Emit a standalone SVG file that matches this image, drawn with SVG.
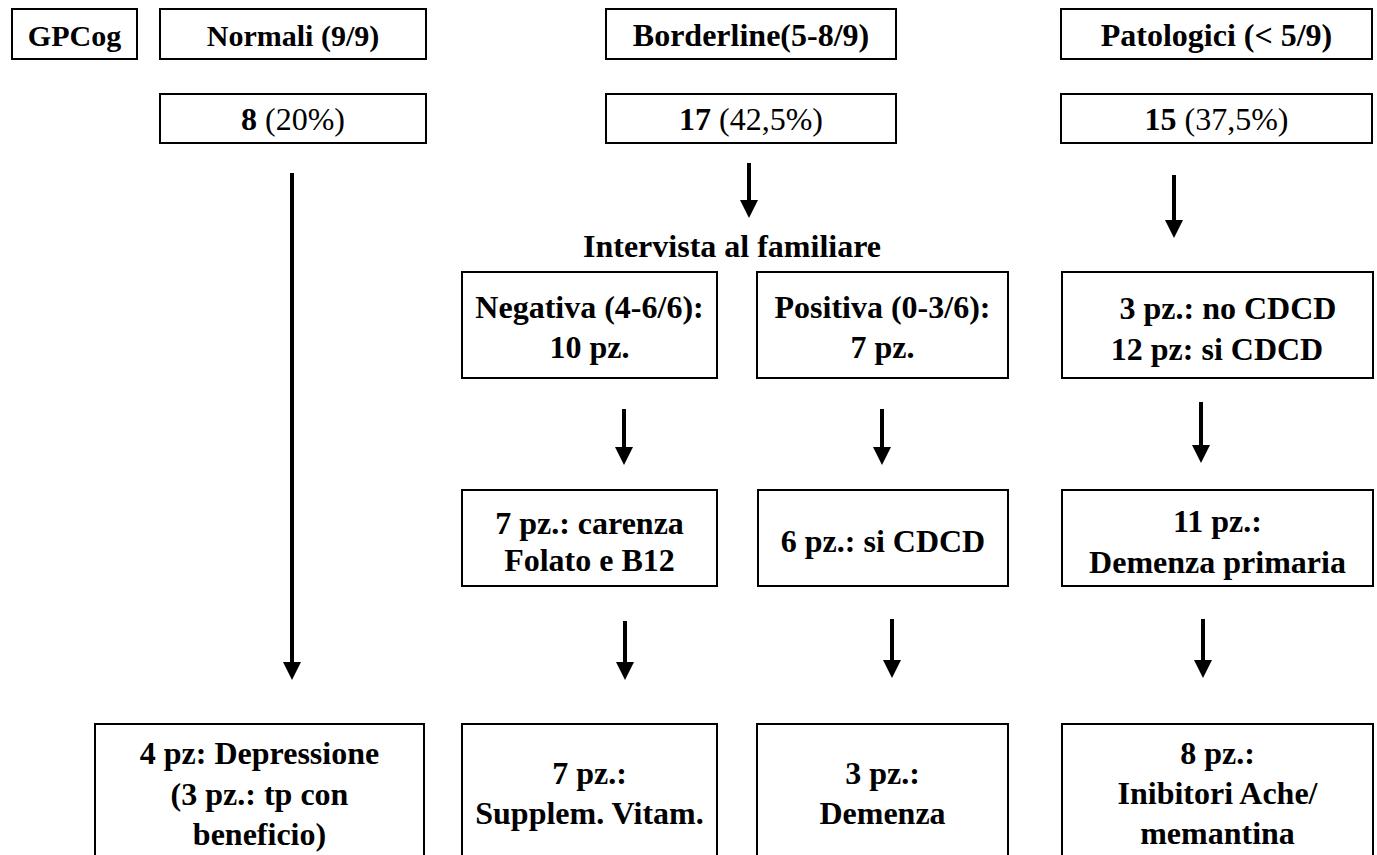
<svg xmlns="http://www.w3.org/2000/svg" width="1377" height="855" viewBox="0 0 1377 855">
<style>
  rect.box { fill: #ffffff; stroke: #000000; stroke-width: 2; }
  text { font-family: 'Liberation Serif', 'DejaVu Serif', serif; font-size: 32px; font-weight: bold; fill: #000000; text-anchor: middle; }
  text.n { font-weight: normal; }
  tspan.b { font-weight: bold; }
  .conn line { stroke: #000000; stroke-width: 4; marker-end: url(#arrow); }
</style>
<defs>
  <marker id="arrow" viewBox="0 0 18 18" refX="0" refY="9" markerWidth="18" markerHeight="18" markerUnits="userSpaceOnUse" orient="auto">
    <path d="M0,0 L18,9 L0,18 z" fill="#000000"/>
  </marker>
</defs>
<rect width="1377" height="855" fill="#ffffff"/>

<g id="gpcog"><rect class="box" x="12" y="9" width="125" height="50"/><text x="74.5" y="46" style="font-size:30px">GPCog</text></g>
<g id="normali"><rect class="box" x="160" y="9" width="266" height="50"/><text x="293" y="46" style="font-size:30px">Normali (9/9)</text></g>
<g id="borderline"><rect class="box" x="606" y="9" width="290" height="50"/><text x="751" y="46">Borderline(5-8/9)</text></g>
<g id="patologici"><rect class="box" x="1061" y="9" width="311" height="50"/><text x="1216.5" y="46">Patologici (&lt; 5/9)</text></g>

<g id="n-count"><rect class="box" x="160" y="94" width="266" height="49"/><text class="n" x="293" y="130"><tspan class="b">8</tspan> (20%)</text></g>
<g id="b-count"><rect class="box" x="606" y="94" width="290" height="49"/><text class="n" x="751" y="130"><tspan class="b">17</tspan> (42,5%)</text></g>
<g id="p-count"><rect class="box" x="1061" y="94" width="311" height="49"/><text class="n" x="1216.5" y="130"><tspan class="b">15</tspan> (37,5%)</text></g>

<g id="intervista"><text x="732" y="257">Intervista al familiare</text></g>

<g id="negativa"><rect class="box" x="462" y="272" width="255" height="106"/><text x="589.5" y="318">Negativa (4-6/6):</text><text x="589.5" y="358">10 pz.</text></g>
<g id="positiva"><rect class="box" x="757" y="272" width="251" height="106"/><text x="882.5" y="318">Positiva (0-3/6):</text><text x="882.5" y="358">7 pz.</text></g>
<g id="cdcd"><rect class="box" x="1062" y="272" width="311" height="106"/><text x="1228" y="319">3 pz.: no CDCD</text><text x="1217" y="360">12 pz: si CDCD</text></g>

<g id="carenza"><rect class="box" x="462" y="490" width="255" height="96"/><text x="589.5" y="534">7 pz.: carenza</text><text x="589.5" y="571">Folato e B12</text></g>
<g id="sicdcd"><rect class="box" x="758" y="490" width="250" height="96"/><text x="883" y="552">6 pz.: si CDCD</text></g>
<g id="primaria"><rect class="box" x="1062" y="490" width="311" height="96"/><text x="1217.5" y="532">11 pz.:</text><text x="1217.5" y="573">Demenza primaria</text></g>

<g id="depressione"><rect class="box" x="95" y="724" width="329" height="160"/><text x="259.5" y="764">4 pz: Depressione</text><text x="259.5" y="805">(3 pz.: tp con</text><text x="259.5" y="845">beneficio)</text></g>
<g id="supplem"><rect class="box" x="462" y="724" width="255" height="160"/><text x="589.5" y="784">7 pz.:</text><text x="589.5" y="824">Supplem. Vitam.</text></g>
<g id="demenza"><rect class="box" x="757" y="724" width="251" height="160"/><text x="882.5" y="784">3 pz.:</text><text x="882.5" y="824">Demenza</text></g>
<g id="inibitori"><rect class="box" x="1062" y="724" width="311" height="160"/><text x="1217.5" y="764">8 pz.:</text><text x="1217.5" y="804">Inibitori Ache/</text><text x="1217.5" y="844">memantina</text></g>

<g id="connectors" class="conn">
  <line x1="292" y1="173" x2="292" y2="662"/>
  <line x1="749" y1="163" x2="749" y2="200"/>
  <line x1="1174" y1="175" x2="1174" y2="220"/>
  <line x1="624" y1="409" x2="624" y2="447"/>
  <line x1="882" y1="409" x2="882" y2="447"/>
  <line x1="1201" y1="402" x2="1201" y2="445"/>
  <line x1="625" y1="621" x2="625" y2="662"/>
  <line x1="892" y1="619" x2="892" y2="660"/>
  <line x1="1203" y1="619" x2="1203" y2="660"/>
</g>
</svg>
